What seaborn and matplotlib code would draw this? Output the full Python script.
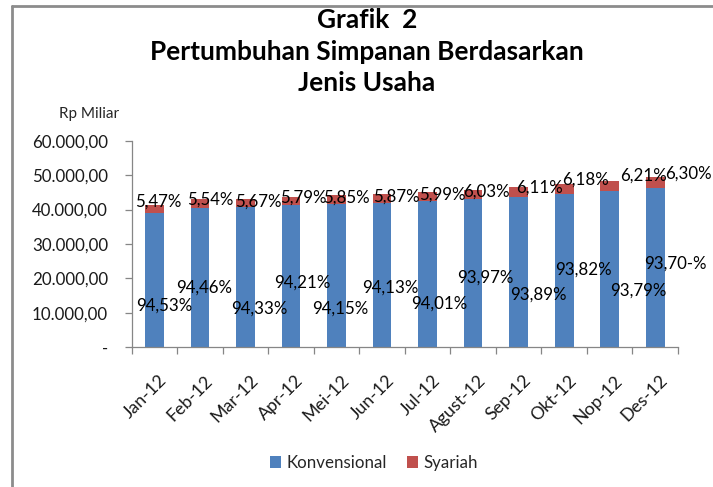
import matplotlib
matplotlib.use("Agg")
import matplotlib.pyplot as plt
import matplotlib.transforms as mtransforms
from matplotlib.patches import Patch
from matplotlib.lines import Line2D
import seaborn as sns
import pandas as pd

# ---------------- data ----------------
months = ["Jan-12", "Feb-12", "Mar-12", "Apr-12", "Mei-12", "Jun-12",
          "Jul-12", "Agust-12", "Sep-12", "Okt-12", "Nop-12", "Des-12"]
konvensional = [39145, 40599, 40703, 41198, 41643, 41907,
                42399, 42926, 43790, 44489, 45376, 46260]
syariah = [2265, 2381, 2447, 2532, 2587, 2613,
           2701, 2754, 2850, 2931, 3004, 3110]
konv_labels = ["94,53%", "94,46%", "94,33%", "94,21%", "94,15%", "94,13%",
               "94,01%", "93,97%", "93,89%", "93,82%", "93,79%", "93,70-%"]
syariah_labels = ["5,47%", "5,54%", "5,67%", "5,79%", "5,85%", "5,87%",
                  "5,99%", "6,03%", "6,11%", "6,18%", "6,21%", "6,30%"]
y_ticks = [0, 10000, 20000, 30000, 40000, 50000, 60000]
y_tick_labels = ["-", "10.000,00", "20.000,00", "30.000,00",
                 "40.000,00", "50.000,00", "60.000,00"]

# label placement (as dragged in the original chart)
konv_label_dx = [0.21, 0.08, 0.30, 0.25, 0.09, 0.17, 0.26, 0.27, 0.43, 0.42, 0.62, 0.45]
konv_label_y = [11990, 17310, 11330, 18760, 11330, 17310,
                12570, 20210, 15190, 22450, 16440, 24390]
syariah_label_dx = [0.09, 0.22, 0.29, 0.28, 0.22, 0.32, 0.32, 0.29, 0.46, 0.47, 0.74, 0.72]
syariah_label_y = [42280, 42980, 42280, 43560, 43560, 43730,
                   44230, 45190, 46460, 48580, 49750, 50330]

BLUE = "#4F81BD"
RED = "#C0504D"
GRAY = "#868686"
FONT = "Lato"
FS = 12.2

df = pd.DataFrame({"Bulan": months, "Konvensional": konvensional, "Syariah": syariah})
df["Total"] = df["Konvensional"] + df["Syariah"]

sns.set_style("white")
plt.rcParams["font.family"] = [FONT, "DejaVu Sans"]

W, H = 713, 487
fig = plt.figure(figsize=(W / 100, H / 100), dpi=100)
ax = fig.add_axes([131.7 / W, 1 - 347.3 / H, (678 - 131.7) / W, (347.3 - 140.7) / H])

sns.barplot(data=df, x="Bulan", y="Total", color=RED, saturation=1, width=0.41,
            ax=ax, linewidth=0)
sns.barplot(data=df, x="Bulan", y="Konvensional", color=BLUE, saturation=1, width=0.41,
            ax=ax, linewidth=0)

ax.set_xlim(-0.5, len(months) - 0.5)
ax.set_ylim(0, 60000)
ax.set_xlabel("")
ax.set_ylabel("")

for s in ["top", "right"]:
    ax.spines[s].set_visible(False)
for s in ["left", "bottom"]:
    ax.spines[s].set_color(GRAY)
    ax.spines[s].set_linewidth(0.9)

ax.set_yticks(y_ticks)
ax.set_yticklabels(y_tick_labels, fontsize=FS, color="#1a1a1a")
ax.tick_params(axis="y", direction="out", length=5, width=0.9, color=GRAY, pad=12, left=True)

ax.set_xticks(range(len(months)))
ax.set_xticklabels(months, fontsize=12.8, color="#1a1a1a", rotation=45,
                   ha="right", va="center", rotation_mode="anchor")
ax.set_xticks([i - 0.5 for i in range(len(months) + 1)], minor=True)
ax.tick_params(axis="x", which="major", length=0, pad=22, bottom=True)
ax.tick_params(axis="x", which="minor", direction="out", length=5, width=0.9,
               color=GRAY, bottom=True)
offset = mtransforms.ScaledTranslation(10 / 100, 0, fig.dpi_scale_trans)
for lbl in ax.get_xticklabels():
    lbl.set_transform(lbl.get_transform() + offset)

for i in range(len(months)):
    ax.text(i + konv_label_dx[i], konv_label_y[i], konv_labels[i], fontsize=FS,
            ha="center", va="center", color="black")
    ax.text(i + syariah_label_dx[i], syariah_label_y[i], syariah_labels[i], fontsize=FS,
            ha="center", va="center", color="black")

# y unit label
fig.text(89 / W, 1 - 114 / H, "Rp Miliar", fontsize=11, ha="center", va="center")

# title
title_lines = ["Grafik  2", "Pertumbuhan Simpanan Berdasarkan", "Jenis Usaha"]
title_base = [28, 59.5, 91]
fig.canvas.draw()
renderer = fig.canvas.get_renderer()
probe = fig.text(0, 0, title_lines[1], fontsize=16, fontweight="bold")
w = probe.get_window_extent(renderer).width
probe.remove()
tfs = 16 * 434 / w
for line, yb in zip(title_lines, title_base):
    fig.text(367 / W, 1 - yb / H, line, fontsize=tfs, fontweight="bold",
             ha="center", va="baseline", color="black")

# legend
handles = [Patch(facecolor=BLUE, edgecolor="none"), Patch(facecolor=RED, edgecolor="none")]
fig.legend(handles, ["Konvensional", "Syariah"], loc="center", bbox_to_anchor=(374 / W, 1 - 463 / H),
           ncol=2, frameon=False, fontsize=FS, handlelength=0.65, handleheight=0.65,
           handletextpad=0.3, columnspacing=1.2)

# outer frame (top and left edges)
fig.add_artist(Line2D([12 / W, 1], [1 - 5.7 / H, 1 - 5.7 / H], transform=fig.transFigure,
                      color="#8c8c8c", linewidth=2))
fig.add_artist(Line2D([12 / W, 12 / W], [0, 1 - 5.7 / H], transform=fig.transFigure,
                      color="#8c8c8c", linewidth=2))

fig.savefig("out.png", dpi=100)
